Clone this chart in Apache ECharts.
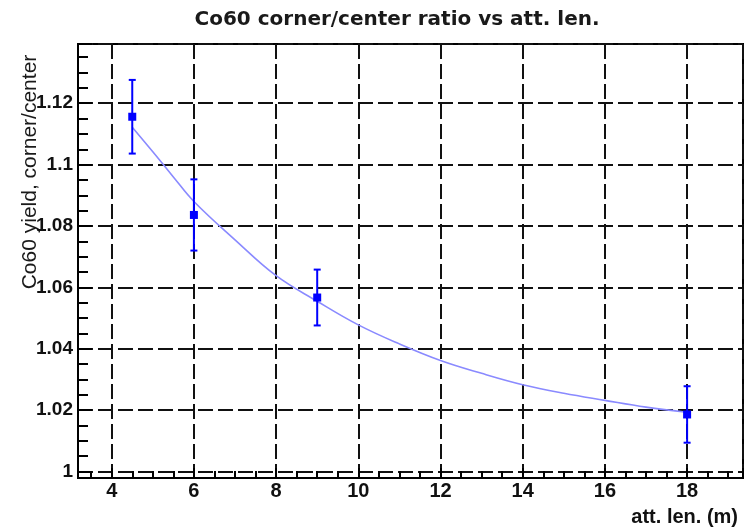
<!DOCTYPE html>
<html>
<head>
<meta charset="utf-8">
<script src="https://cdn.jsdelivr.net/npm/echarts@6/dist/echarts.min.js"></script>
<style>
html,body{margin:0;padding:0;background:#fff;}
#chart{width:751px;height:527px;}
</style>
</head>
<body>
<div id="chart"></div>
<script>
// ---- data ----
const attLen   = [4.5, 6, 9, 18];
const ratio    = [1.1156, 1.0836, 1.0567, 1.0186];
const ratioErr = [0.0120, 0.0116, 0.0091, 0.0092];
// fitted curve
const fitX = [4.5, 5, 5.5, 6, 7, 8, 9, 10, 11, 12, 13, 14, 15, 16, 17, 18];
const fitY = [1.1122, 1.1042, 1.0960, 1.0880, 1.0755, 1.0638, 1.0555, 1.0478, 1.0416, 1.0362, 1.0320, 1.0283, 1.0255, 1.0232, 1.0210, 1.0193];
const xRange = [3.18, 19.36];
const yRange = [0.9979, 1.1393];
const titleText = 'Co60 corner/center ratio vs att. len.';
const xTitle = 'att. len. (m)';
const yTitle = 'Co60 yield, corner/center';

const chart = echarts.init(document.getElementById('chart'), null, {renderer: 'canvas'});
const FONT = 'Liberation Sans, Arial, Helvetica, sans-serif';
const gridLine = {show: true, lineStyle: {color: '#111', width: 2, type: [15, 5]}};

const pts = attLen.map((x, i) => [x, ratio[i], ratioErr[i]]);
const fit = fitX.map((x, i) => [x, fitY[i]]);

chart.setOption({
  animation: false,
  backgroundColor: '#fff',
  grid: {left: 78, right: 8, top: 44, bottom: 49, show: true, borderColor: '#000', borderWidth: 2, containLabel: false},
  graphic: [
    {type: 'text', x: 397, y: 20, style: {text: titleText, font: 'bold 20px "DejaVu Sans"', fill: '#1a1a1a', align: 'center', verticalAlign: 'middle'}},
    {type: 'text', x: 738, y: 517, style: {text: xTitle, font: 'bold 20px ' + FONT, fill: '#111', align: 'right', verticalAlign: 'middle'}},
    {type: 'text', x: 30, y: 172, rotation: Math.PI / 2, style: {text: yTitle, font: '21px ' + FONT, fill: '#1a1a1a', align: 'center', verticalAlign: 'middle'}}
  ],
  xAxis: {
    type: 'value', min: xRange[0], max: xRange[1], splitNumber: 8,
    axisLine: {show: true, onZero: false, lineStyle: {color: '#000', width: 2}},
    axisTick: {show: true, inside: true, length: 10, lineStyle: {color: '#000', width: 2}},
    minorTick: {show: true, splitNumber: 4, length: 7, lineStyle: {color: '#000', width: 2}},
    splitLine: gridLine,
    axisLabel: {show: true, showMinLabel: false, showMaxLabel: false, margin: 3, color: '#111', fontFamily: FONT, fontWeight: 'bold', fontSize: 20}
  },
  yAxis: {
    type: 'value', min: yRange[0], max: yRange[1], splitNumber: 7,
    axisLine: {show: true, onZero: false, lineStyle: {color: '#000', width: 2}},
    axisTick: {show: true, inside: true, length: 14, lineStyle: {color: '#000', width: 2}},
    minorTick: {show: true, splitNumber: 4, length: 10, lineStyle: {color: '#000', width: 2}},
    splitLine: gridLine,
    axisLabel: {show: true, showMinLabel: false, showMaxLabel: false, margin: 5, padding: [6, 0, 0, 0], color: '#111', fontFamily: FONT, fontWeight: 'bold', fontSize: 19}
  },
  series: [
    {
      type: 'line', data: fit, smooth: 0.4, showSymbol: false, symbol: 'none', z: 3,
      lineStyle: {color: '#8a8aff', width: 1.6}
    },
    {
      type: 'custom', z: 5, data: pts,
      renderItem: function (params, api) {
        const x = api.value(0), y = api.value(1), e = api.value(2);
        const c = api.coord([x, y]);
        const hi = api.coord([x, y + e]);
        const lo = api.coord([x, y - e]);
        const cap = 3.5;
        const st = {stroke: '#0000ff', lineWidth: 2, fill: null};
        return {
          type: 'group',
          children: [
            {type: 'line', shape: {x1: c[0], y1: hi[1], x2: c[0], y2: lo[1]}, style: st},
            {type: 'line', shape: {x1: c[0] - cap, y1: hi[1], x2: c[0] + cap, y2: hi[1]}, style: st},
            {type: 'line', shape: {x1: c[0] - cap, y1: lo[1], x2: c[0] + cap, y2: lo[1]}, style: st},
            {type: 'rect', shape: {x: c[0] - 4, y: c[1] - 4, width: 8, height: 8}, style: {fill: '#0000ff'}}
          ]
        };
      }
    }
  ]
});
</script>
</body>
</html>
